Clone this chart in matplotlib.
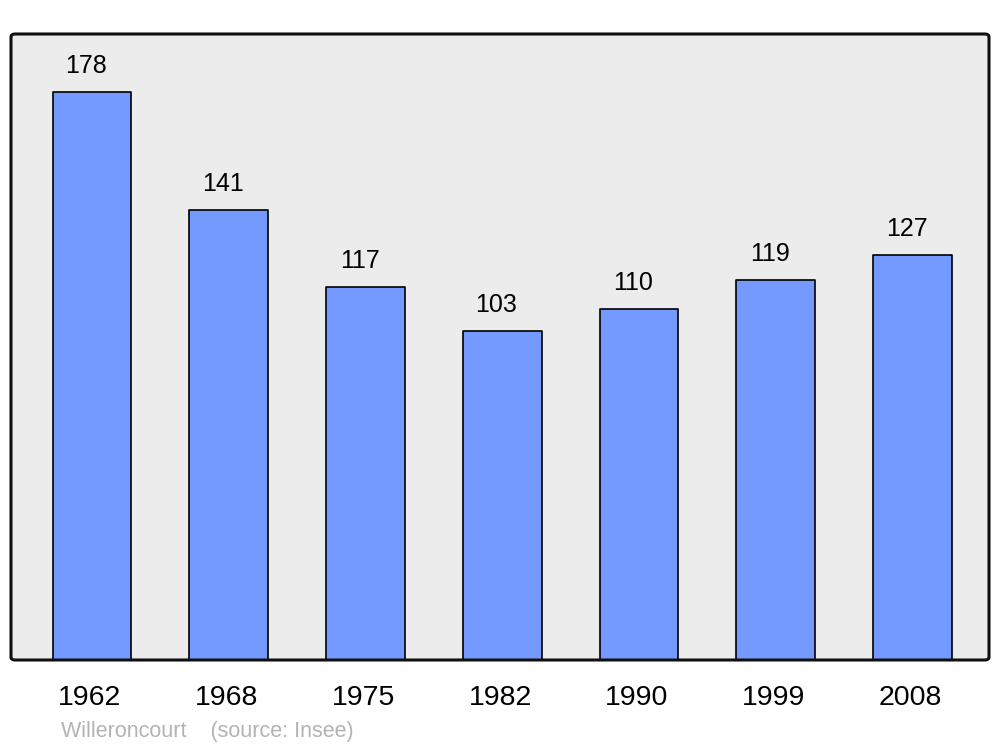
import matplotlib
matplotlib.use("Agg")
import matplotlib.pyplot as plt
from matplotlib.patches import FancyBboxPatch

years = ["1962", "1968", "1975", "1982", "1990", "1999", "2008"]
population = [178, 141, 117, 103, 110, 119, 127]
caption = "Willeroncourt    (source: Insee)"

plt.rcParams['font.family'] = ['Liberation Sans', 'DejaVu Sans']

fig = plt.figure(figsize=(10, 7.47), dpi=100)
ax = fig.add_axes([0.011, 87/747, 0.978, 626/747])
ax.set_facecolor('#ececec')
for s in ax.spines.values():
    s.set_visible(False)

x = list(range(len(years)))
bars = ax.bar(x, population, width=0.575, color='#7499ff', edgecolor='black',
              linewidth=1.2, zorder=2)
for b in bars:
    b.set_joinstyle('round')

for xi, v in zip(x, population):
    ax.annotate(str(v), (xi, v), xytext=(-4.3, 13.7), textcoords='offset points',
                ha='center', va='baseline', fontsize=18)

ax.set_xlim(-0.592, 6.559)
ax.set_ylim(0, 196.2)
ax.set_yticks([])
ax.set_xticks(x)
ax.set_xticklabels([])
ax.tick_params(axis='x', length=0)
for xi, lab in zip(x, years):
    ax.annotate(lab, (xi, 0), xycoords=('data', 'axes fraction'),
                xytext=(-1.5, -32.4), textcoords='offset points',
                ha='center', va='baseline', fontsize=20.5)

frame = FancyBboxPatch((0.011, 87/747), 0.978, 626/747,
                       boxstyle="round,pad=0,rounding_size=0.004",
                       transform=fig.transFigure, fill=False,
                       edgecolor='#111111', linewidth=2.2, zorder=5)
fig.patches.append(frame)

fig.text(0.061, 1 - 737/747, caption, color='#b3b3b3', fontsize=15.5,
         va='baseline', ha='left')

fig.savefig('out.png', dpi=100)
